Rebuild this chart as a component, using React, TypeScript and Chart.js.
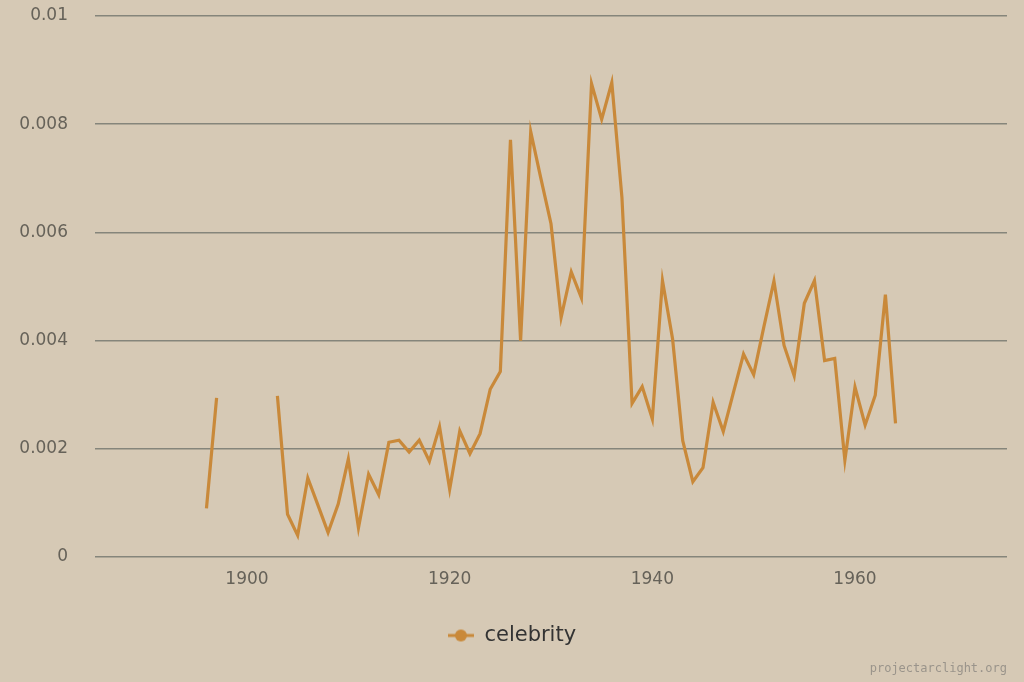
import React, { useEffect, useRef } from "react";
import { Chart, registerables } from "chart.js";

Chart.register(...registerables);

const years: number[] = [
  1896, 1897, 1898, 1899, 1900, 1901, 1902, 1903, 1904, 1905, 1906, 1907, 1908, 1909,
  1910, 1911, 1912, 1913, 1914, 1915, 1916, 1917, 1918, 1919, 1920, 1921, 1922, 1923,
  1924, 1925, 1926, 1927, 1928, 1929, 1930, 1931, 1932, 1933, 1934, 1935, 1936, 1937,
  1938, 1939, 1940, 1941, 1942, 1943, 1944, 1945, 1946, 1947, 1948, 1949, 1950, 1951,
  1952, 1953, 1954, 1955, 1956, 1957, 1958, 1959, 1960, 1961, 1962, 1963, 1964,
];

const celebrity: (number | null)[] = [
  0.0009, 0.00294, null, null, null, null, null, 0.00298, 0.00079, 0.0004, 0.00146, 0.00096, 0.00045, 0.00098,
  0.00181, 0.00054, 0.00153, 0.00115, 0.00212, 0.00216, 0.00194, 0.00216, 0.00177, 0.00241, 0.00125, 0.00233, 0.00191, 0.00228,
  0.0031, 0.00343, 0.00771, 0.004, 0.00786, 0.007, 0.00616, 0.00443, 0.00527, 0.00479, 0.00875, 0.00809, 0.00877, 0.00665,
  0.00284, 0.00315, 0.00255, 0.00511, 0.00403, 0.00215, 0.00139, 0.00165, 0.00286, 0.00232, 0.00304, 0.00375, 0.00337, 0.00425,
  0.0051, 0.00391, 0.00335, 0.00469, 0.00511, 0.00363, 0.00367, 0.00179, 0.00314, 0.00244, 0.00299, 0.00485, 0.00247,
];

const xTicks: number[] = [1900, 1920, 1940, 1960];
const seriesName = "celebrity";

const LINE = "#c9893a";
const BG = "#d6c9b5";
const GRID = "#85857b";
const TICK = "#666259";

function makeLegendIcon(): HTMLCanvasElement {
  const c = document.createElement("canvas");
  c.width = 26;
  c.height = 14;
  const ctx = c.getContext("2d")!;
  ctx.strokeStyle = LINE;
  ctx.lineWidth = 3;
  ctx.beginPath();
  ctx.moveTo(0, 7);
  ctx.lineTo(26, 7);
  ctx.stroke();
  ctx.fillStyle = LINE;
  ctx.beginPath();
  ctx.arc(13, 7, 6, 0, Math.PI * 2);
  ctx.fill();
  return c;
}

export default function App() {
  const ref = useRef<HTMLCanvasElement | null>(null);

  useEffect(() => {
    if (!ref.current) return;
    const icon = makeLegendIcon();
    const chart = new Chart(ref.current, {
      type: "line",
      data: {
        datasets: [
          {
            label: seriesName,
            data: years.map((y, i) => ({ x: y, y: celebrity[i] })),
            borderColor: LINE,
            backgroundColor: LINE,
            borderWidth: 3.2,
            pointRadius: 0,
            tension: 0,
            spanGaps: false,
          },
        ],
      },
      options: {
        animation: false,
        responsive: false,
        layout: { padding: { left: 17, right: 17, top: 16, bottom: 26 } },
        scales: {
          x: {
            type: "linear",
            min: 1885,
            max: 1975,
            afterBuildTicks: (axis: any) => {
              axis.ticks = xTicks.map((v) => ({ value: v }));
            },
            afterFit: (axis: any) => {
              axis.height = 58;
            },
            grid: { display: false, drawTicks: false },
            border: { display: false },
            ticks: {
              color: TICK,
              padding: 12,
              font: { family: "DejaVu Sans", size: 17 },
              callback: (v: any) => String(v),
            },
          },
          y: {
            min: 0,
            max: 0.01,
            afterFit: (axis: any) => {
              axis.width = 78;
              axis.paddingTop = 10;
              axis.paddingBottom = 10;
            },
            grid: { color: GRID, lineWidth: 1.5, drawTicks: false },
            border: { display: false },
            ticks: {
              stepSize: 0.002,
              color: TICK,
              padding: 27,
              font: { family: "DejaVu Sans", size: 17 },
              callback: (v: any) => String(Number(Number(v).toFixed(3))),
            },
          },
        },
        plugins: {
          tooltip: { enabled: false },
          legend: {
            position: "bottom",
            labels: {
              usePointStyle: true,
              pointStyle: icon,
              pointStyleWidth: 26,
              color: "#333333",
              padding: 10,
              font: { family: "DejaVu Sans", size: 21 },
            },
          },
        },
      },
    });
    return () => chart.destroy();
  }, []);

  return (
    <div style={{ position: "fixed", left: 0, top: 0, width: 1024, height: 682, background: BG, overflow: "hidden" }}>
      <canvas ref={ref} width={1024} height={682} style={{ position: "absolute", left: 0, top: 0, width: 1024, height: 682 }} />
      <div
        style={{
          position: "absolute",
          right: 17,
          top: 661,
          fontFamily: "DejaVu Sans Mono",
          fontSize: 12,
          color: "#9a948b",
          lineHeight: "14px",
        }}
      >
        projectarclight.org
      </div>
    </div>
  );
}
